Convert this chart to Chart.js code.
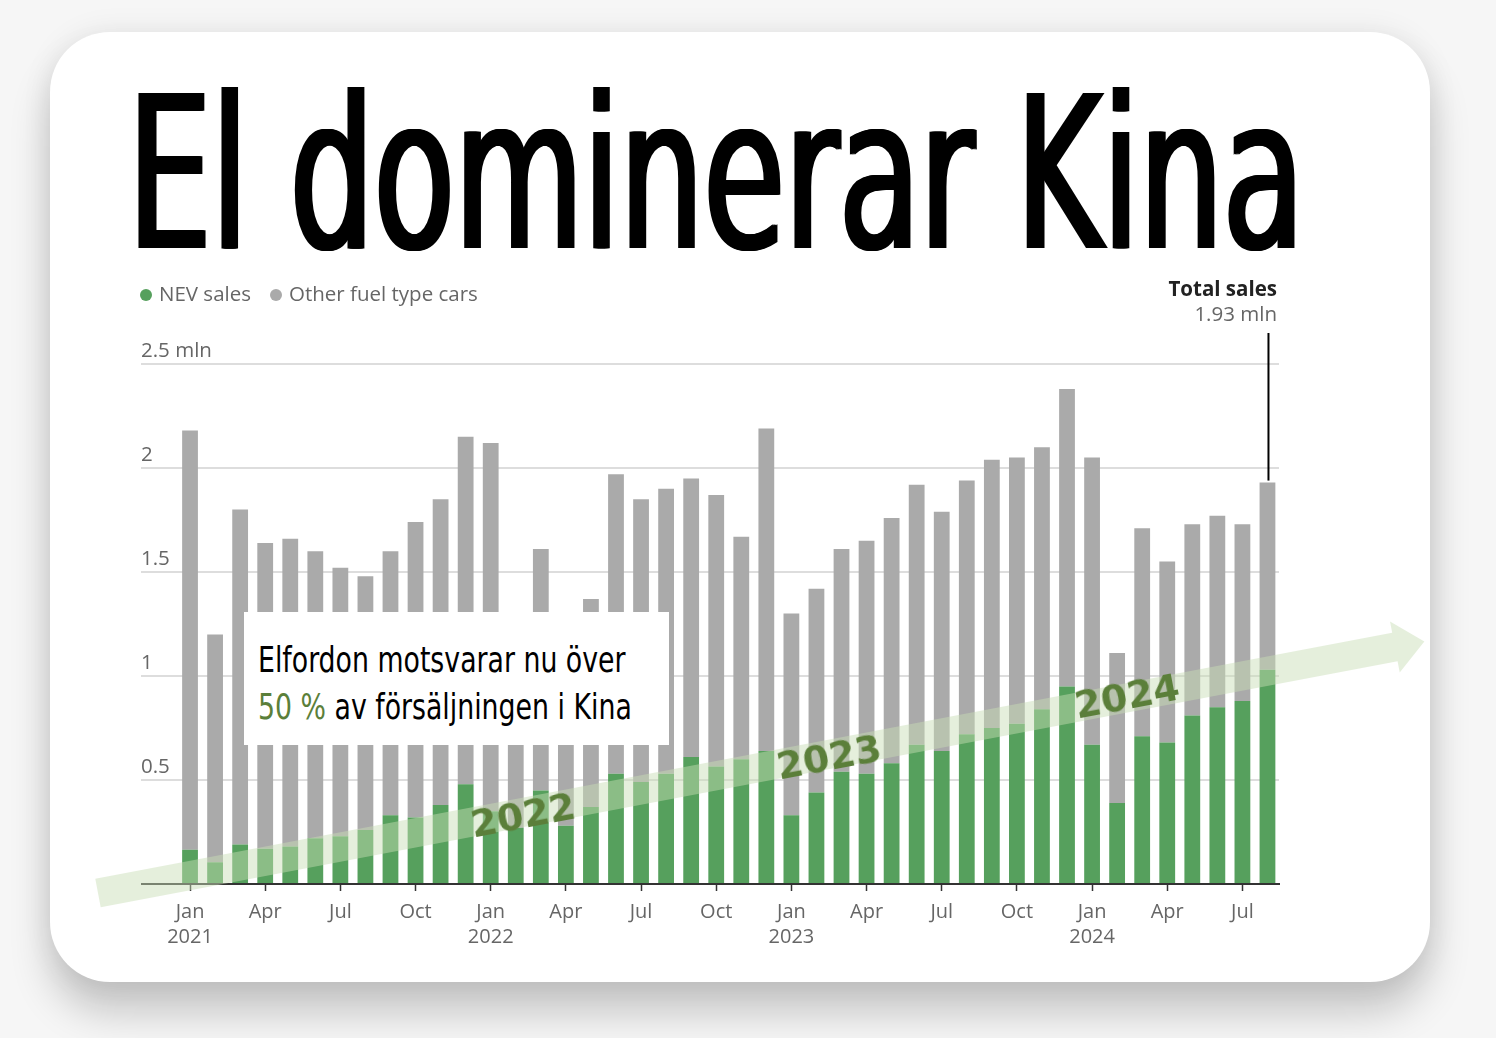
<!DOCTYPE html>
<html>
<head>
<meta charset="utf-8">
<script src="https://cdn.jsdelivr.net/npm/chart.js@4"></script>
<style>
  html, body { margin: 0; padding: 0; }
  body { width: 1496px; height: 1038px; position: relative; overflow: hidden; background: #f6f6f6; }
  #card { position: absolute; left: 50px; top: 32px; width: 1380px; height: 950px; background: #fff;
          border-radius: 60px; box-shadow: 0 30px 40px rgba(0,0,0,0.20), 0 0 30px rgba(0,0,0,0.08); }
  #title { position: absolute; left: 128px; top: 69px; font-family: "Liberation Sans Narrow", "DejaVu Sans Condensed", sans-serif;
           font-size: 212px; line-height: 212px; color: #000; white-space: nowrap; transform-origin: 0 0;
           text-shadow: 3.5px 0 0 #000, -3.5px 0 0 #000, 1.75px 0 0 #000, -1.75px 0 0 #000; }
  canvas { position: absolute; left: 0; top: 0; }
  .txt { position: absolute; font-family: "Open Sans", sans-serif; font-size: 20.5px; line-height: 24px; white-space: nowrap; color: #666; }
  .dot { display: inline-block; width: 12px; height: 12px; border-radius: 6px; margin-right: 7px; vertical-align: 0px; }
  #note { position: absolute; left: 244px; top: 612px; width: 425px; height: 133px; background: #fff; }
  #noteText { position: absolute; left: 14px; top: 25px; font-family: "Liberation Sans Narrow", "DejaVu Sans Condensed", sans-serif;
              font-size: 35px; line-height: 47px; color: #000; white-space: nowrap; transform-origin: 0 0; }
  #noteText b { font-weight: normal; color: #5b7f3a; }
  .year { position: absolute; font-family: "DejaVu Sans", sans-serif; font-weight: bold; font-size: 38px; color: #5b7f3a;
          transform: translate(-50%, -50%) rotate(-10.7deg); white-space: nowrap; }
</style>
</head>
<body>
<div id="card"></div>
<div id="title"><span id="titleSpan">El dominerar Kina</span></div>
<canvas id="myChart" width="1496" height="1038"></canvas>

<div class="txt" style="left:140px; top:281px;"><span class="dot" style="background:#56a05d"></span>NEV sales</div>
<div class="txt" style="left:270px; top:281px;"><span class="dot" style="background:#aaaaaa"></span>Other fuel type cars</div>
<div class="txt" style="right:219px; top:276px; text-align:right; color:#222; font-weight:bold;">Total sales</div>
<div class="txt" id="lastTotal" style="right:219px; top:301px; text-align:right;"></div>

<div id="note"><div id="noteText">Elfordon motsvarar nu över<br><b>50 %</b> av försäljningen i Kina</div></div>

<div class="year" style="left:523px; top:815px;">2022</div>
<div class="year" style="left:829px; top:757px;">2023</div>
<div class="year" style="left:1127px; top:696px;">2024</div>

<script>
// månader, jan 2021 - aug 2024
const months = [
  'Jan 2021', 'Feb 2021', 'Mar 2021', 'Apr 2021', 'May 2021', 'Jun 2021', 'Jul 2021', 'Aug 2021', 'Sep 2021', 'Oct 2021', 'Nov 2021', 'Dec 2021',
  'Jan 2022', 'Feb 2022', 'Mar 2022', 'Apr 2022', 'May 2022', 'Jun 2022', 'Jul 2022', 'Aug 2022', 'Sep 2022', 'Oct 2022', 'Nov 2022', 'Dec 2022',
  'Jan 2023', 'Feb 2023', 'Mar 2023', 'Apr 2023', 'May 2023', 'Jun 2023', 'Jul 2023', 'Aug 2023', 'Sep 2023', 'Oct 2023', 'Nov 2023', 'Dec 2023',
  'Jan 2024', 'Feb 2024', 'Mar 2024', 'Apr 2024', 'May 2024', 'Jun 2024', 'Jul 2024', 'Aug 2024'
];

// total försäljning (mln)
const totalSales = [
  2.18, 1.20, 1.80, 1.64, 1.66, 1.60, 1.52, 1.48, 1.60, 1.74, 1.85, 2.15,
  2.12, 1.27, 1.61, 0.96, 1.37, 1.97, 1.85, 1.90, 1.95, 1.87, 1.67, 2.19,
  1.30, 1.42, 1.61, 1.65, 1.76, 1.92, 1.79, 1.94, 2.04, 2.05, 2.10, 2.38,
  2.05, 1.11, 1.71, 1.55, 1.73, 1.77, 1.73, 1.93
];

// NEV (mln)
const nevSales = [
  0.165, 0.104, 0.19, 0.17, 0.18, 0.22, 0.23, 0.26, 0.33, 0.32, 0.38, 0.48,
  0.35, 0.27, 0.45, 0.28, 0.37, 0.53, 0.49, 0.53, 0.61, 0.565, 0.60, 0.64,
  0.33, 0.44, 0.54, 0.53, 0.58, 0.67, 0.64, 0.72, 0.75, 0.77, 0.84, 0.95,
  0.67, 0.39, 0.71, 0.68, 0.81, 0.85, 0.88, 1.03
];

const yTickValues = [0.5, 1, 1.5, 2, 2.5];
const yTickLabels = ['0.5', '1', '1.5', '2', '2.5 mln'];
const labeledMonths = ['Jan', 'Apr', 'Jul', 'Oct'];

const otherSales = totalSales.map((t, i) => +(t - nevSales[i]).toFixed(3));

document.getElementById('lastTotal').textContent = totalSales[totalSales.length - 1].toFixed(2) + ' mln';

// titel och ruta skalas till rätt bredd
const titleSpan = document.getElementById('titleSpan');
document.getElementById('title').style.transform = 'scaleX(' + (1176 / titleSpan.offsetWidth) + ')';
const noteText = document.getElementById('noteText');
noteText.style.transform = 'scaleX(' + (374 / noteText.offsetWidth) + ')';

function isLabeled(i) {
  return labeledMonths.includes(months[i].split(' ')[0]);
}

const extras = {
  id: 'extras',
  beforeDatasetsDraw(chart) {
    const { ctx, scales: { y } } = chart;
    ctx.save();
    ctx.font = '20.5px "Open Sans"';
    ctx.fillStyle = '#666';
    ctx.textAlign = 'left';
    ctx.textBaseline = 'alphabetic';
    yTickValues.forEach((v, i) => {
      const py = y.getPixelForValue(v);
      ctx.strokeStyle = '#d2d2d2';
      ctx.lineWidth = 1.5;
      ctx.beginPath();
      ctx.moveTo(141, py);
      ctx.lineTo(1279, py);
      ctx.stroke();
      ctx.fillText(yTickLabels[i], 141, py - 7);
    });
    ctx.restore();
  },
  afterDatasetsDraw(chart) {
    const { ctx, scales: { y } } = chart;
    ctx.save();
    // nollinje
    const y0 = y.getPixelForValue(0);
    ctx.strokeStyle = '#333';
    ctx.lineWidth = 2;
    ctx.beginPath();
    ctx.moveTo(141, y0);
    ctx.lineTo(1280, y0);
    ctx.stroke();

    // pil
    ctx.save();
    ctx.translate(98, 893);
    ctx.rotate(Math.atan2(-246, 1297));
    const L = 1320;
    ctx.beginPath();
    ctx.moveTo(0, -14.5);
    ctx.lineTo(L, -14.5);
    ctx.lineTo(L, -26);
    ctx.lineTo(L + 30, 0);
    ctx.lineTo(L, 26);
    ctx.lineTo(L, 14.5);
    ctx.lineTo(0, 14.5);
    ctx.closePath();
    ctx.fillStyle = 'rgba(200, 222, 181, 0.47)';
    ctx.fill();
    ctx.restore();

    // linje till sista stapeln
    const meta = chart.getDatasetMeta(1);
    const last = meta.data[meta.data.length - 1];
    ctx.strokeStyle = '#000';
    ctx.lineWidth = 2;
    ctx.beginPath();
    ctx.moveTo(last.x + 1, 333);
    ctx.lineTo(last.x + 1, last.y - 2);
    ctx.stroke();
    ctx.restore();
  }
};

const ctx = document.getElementById('myChart');

new Chart(ctx, {
  type: 'bar',
  data: {
    labels: months,
    datasets: [
      {
        label: 'NEV sales',
        data: nevSales,
        backgroundColor: '#56a05d',
        barPercentage: 0.63,
        categoryPercentage: 1
      },
      {
        label: 'Other fuel type cars',
        data: otherSales,
        backgroundColor: '#aaaaaa',
        barPercentage: 0.63,
        categoryPercentage: 1
      }
    ]
  },
  options: {
    responsive: false,
    animation: false,
    events: [],
    layout: { padding: { left: 177.5, right: 216, top: 364, bottom: 79 } },
    plugins: { legend: { display: false }, tooltip: { enabled: false } },
    scales: {
      x: {
        stacked: true,
        border: { display: false },
        grid: {
          offset: false,
          drawOnChartArea: false,
          drawTicks: true,
          tickLength: 7,
          tickWidth: 1.5,
          tickColor: c => isLabeled(c.index) ? '#333' : 'rgba(0,0,0,0)'
        },
        ticks: {
          autoSkip: false,
          maxRotation: 0,
          padding: 9,
          color: '#666',
          font: { family: 'Open Sans', size: 20, lineHeight: 1.25 },
          callback: function (val, i) {
            const parts = months[i].split(' ');
            if (parts[0] === 'Jan') return [parts[0], parts[1]];
            if (isLabeled(i)) return parts[0];
            return '';
          }
        }
      },
      y: {
        stacked: true,
        display: false,
        min: 0,
        max: 2.5
      }
    }
  },
  plugins: [extras]
});
</script>
</body>
</html>
